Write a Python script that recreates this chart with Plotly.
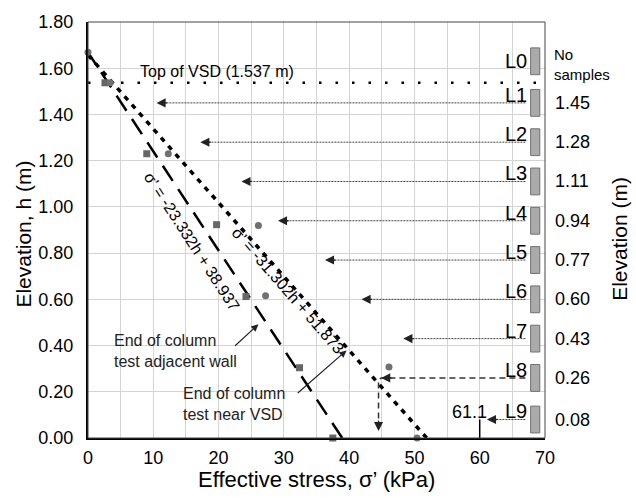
import plotly.graph_objects as go

# Measured effective stress profiles
sq_stress = [2.6, 9.0, 19.7, 24.2, 32.4, 37.5]          # column test adjacent wall
sq_elev = [1.537, 1.23, 0.923, 0.612, 0.304, 0.0]
ci_stress = [0.0, 3.4, 12.3, 26.1, 27.2, 46.1, 50.4]     # column test near VSD
ci_elev = [1.669, 1.537, 1.23, 0.92, 0.615, 0.307, 0.0]

# Linear fits: sigma' = slope * h + intercept
fit_wall = (-23.332, 38.937)
fit_vsd = (-31.302, 51.873)

vsd_top = 1.537

# Sampling levels
levels = ["L0", "L1", "L2", "L3", "L4", "L5", "L6", "L7", "L8", "L9"]
level_elev = [1.63, 1.45, 1.28, 1.11, 0.94, 0.77, 0.60, 0.43, 0.26, 0.08]
level_text = [None, "1.45", "1.28", "1.11", "0.94", "0.77", "0.60", "0.43", "0.26", "0.08"]
level_stress = [None, 10.5, 17.2, 23.5, 29.1, 36.3, 41.9, 48.3, 44.9, 61.1]

FONT = "Liberation Sans, Arial, sans-serif"
X0, X1, Y0, Y1 = 0, 70, 0, 1.8

fig = go.Figure()


def fit_line(fit):
    slope, icpt = fit
    h_end = -icpt / slope
    return [icpt, 0.0], [0.0, h_end]


xs, ys = fit_line(fit_wall)
fig.add_trace(go.Scatter(x=xs, y=ys, mode="lines",
                         line=dict(color="black", width=2.5, dash="18px,10px"),
                         showlegend=False, hoverinfo="skip"))
xs, ys = fit_line(fit_vsd)
fig.add_trace(go.Scatter(x=xs, y=ys, mode="lines",
                         line=dict(color="black", width=3.5, dash="5px,6px"),
                         showlegend=False, hoverinfo="skip"))

# top of VSD
fig.add_trace(go.Scatter(x=[X0, X1], y=[vsd_top, vsd_top], mode="lines",
                         line=dict(color="black", width=2.5, dash="2.5px,14px"),
                         showlegend=False, hoverinfo="skip"))

# level arrows (shafts)
for lab, h, s in zip(levels, level_elev, level_stress):
    if s is None:
        continue
    if lab == "L8":
        fig.add_trace(go.Scatter(x=[67.0, s, s - 0.4, s - 0.4], y=[h, h, h - 0.01, 0.03],
                                 mode="lines",
                                 line=dict(color="#333333", width=1.5, dash="6px,4px"),
                                 showlegend=False, hoverinfo="skip"))
    else:
        fig.add_trace(go.Scatter(x=[67.0, s + 0.6], y=[h, h], mode="lines",
                                 line=dict(color="#444444", width=1, dash="2px,1px"),
                                 showlegend=False, hoverinfo="skip"))

fig.add_trace(go.Scatter(x=sq_stress, y=sq_elev, mode="markers",
                         marker=dict(symbol="square", size=7, color="#666666"),
                         showlegend=False, hoverinfo="skip", cliponaxis=False))
fig.add_trace(go.Scatter(x=ci_stress, y=ci_elev, mode="markers",
                         marker=dict(symbol="circle", size=7, color="#707070"),
                         showlegend=False, hoverinfo="skip", cliponaxis=False))

# mark at 60 kPa
fig.add_trace(go.Scatter(x=[60, 60], y=[0, 0.08], mode="lines",
                         line=dict(color="black", width=1.5),
                         showlegend=False, hoverinfo="skip"))

shapes = []
# plot frame (top/right)
shapes.append(dict(type="rect", xref="paper", yref="paper", x0=0, x1=1, y0=0, y1=1,
                   line=dict(color="#444444", width=1)))
for h in level_elev:
    shapes.append(dict(type="rect", xref="x", yref="y", x0=67.8, x1=69.2,
                       y0=h - 0.058, y1=h + 0.058,
                       fillcolor="#ababab", line=dict(color="#707070", width=1)))

ann = []


def text_at(x, y, text, size=16, xanchor="center", xref="x", color="black", **kw):
    ann.append(dict(x=x, y=y, xref=xref, yref="y", text=text, showarrow=False,
                    xanchor=xanchor, yanchor="middle",
                    font=dict(family=FONT, size=size, color=color), **kw))


# arrowheads
for lab, h, s in zip(levels, level_elev, level_stress):
    if s is None:
        continue
    ann.append(dict(x=s, y=h, xref="x", yref="y", ax=12, ay=0, text="",
                    showarrow=True, arrowhead=2, arrowsize=1.4, arrowwidth=1.3,
                    arrowcolor="#222222"))
    if lab == "L8":
        ann.append(dict(x=s - 0.4, y=0.03, xref="x", yref="y", ax=0, ay=-12, text="",
                        showarrow=True, arrowhead=2, arrowsize=1.4, arrowwidth=1.3,
                        arrowcolor="#222222"))

for lab, h, t in zip(levels, level_elev, level_text):
    dy = 0 if lab == "L0" else 0.035
    text_at(67.5, h + dy, lab, size=20, xanchor="right")
    if t is not None:
        text_at(1.0175, h, t, size=18, xanchor="left", xref="paper")

# L0 has no samples
text_at(1.0175, 1.615, "No<br>samples", size=15, xanchor="left", xref="paper",
        align="left", borderpad=0)

text_at(19.8, 1.585, "Top of VSD (1.537 m)", size=16)
text_at(58.5, 0.111, "61.1", size=18)

text_at(15.9, 0.85, "σ’ = -23.332h + 38.937", size=16, textangle=57)
text_at(30.6, 0.637, "σ’ = -31.302h + 51.873", size=16, textangle=49)

text_at(3.6, 0.375, "End of column<br>test adjacent wall", size=16, xanchor="left",
        align="left", color="#222222")
ann.append(dict(x=26.1, y=0.492, ax=22.3, ay=0.393, xref="x", yref="y", axref="x", ayref="y",
                text="", showarrow=True, arrowhead=2, arrowsize=1.2, arrowwidth=1.2,
                arrowcolor="#222222"))
text_at(14.3, 0.148, "End of column<br>test near VSD", size=16, xanchor="left",
        align="left", color="#222222")
ann.append(dict(x=39.6, y=0.379, ax=31.9, ay=0.189, xref="x", yref="y", axref="x", ayref="y",
                text="", showarrow=True, arrowhead=2, arrowsize=1.2, arrowwidth=1.2,
                arrowcolor="#222222"))

# axis titles
ann.append(dict(x=0.5, y=-0.099, xref="paper", yref="paper",
                xanchor="center", yanchor="middle",
                text="Effective stress, σ’ (kPa)", showarrow=False,
                font=dict(family=FONT, size=22, color="black")))
ann.append(dict(x=-0.14, y=0.489, xref="paper", yref="paper", textangle=-90,
                xanchor="center", yanchor="middle",
                text="Elevation, h (m)", showarrow=False,
                font=dict(family=FONT, size=21, color="black")))
ann.append(dict(x=1.163, y=0.48, xref="paper", yref="paper", textangle=-90,
                xanchor="center", yanchor="middle",
                text="Elevation (m)", showarrow=False,
                font=dict(family=FONT, size=21, color="black")))

fig.update_layout(
    width=636, height=498,
    margin=dict(l=88, r=91, t=13, b=60),
    paper_bgcolor="white", plot_bgcolor="white",
    showlegend=False,
    shapes=shapes, annotations=ann,
    xaxis=dict(range=[X0, X1], dtick=10, tick0=0, showgrid=True, gridcolor="#d4d4d4",
               gridwidth=1, minor=dict(dtick=5, showgrid=True, gridcolor="#d4d4d4"),
               showline=True, linecolor="black", linewidth=2, zeroline=False,
               ticks="", ticklabelstandoff=2,
               tickfont=dict(family=FONT, size=18, color="black")),
    yaxis=dict(range=[Y0, Y1], dtick=0.2, tick0=0, tickformat=".2f", showgrid=True,
               gridcolor="#d4d4d4", gridwidth=1, showline=True, linecolor="black",
               linewidth=2, zeroline=False, ticks="", ticklabelstandoff=9,
               tickfont=dict(family=FONT, size=18, color="black")),
)

fig.write_html("out.html")
